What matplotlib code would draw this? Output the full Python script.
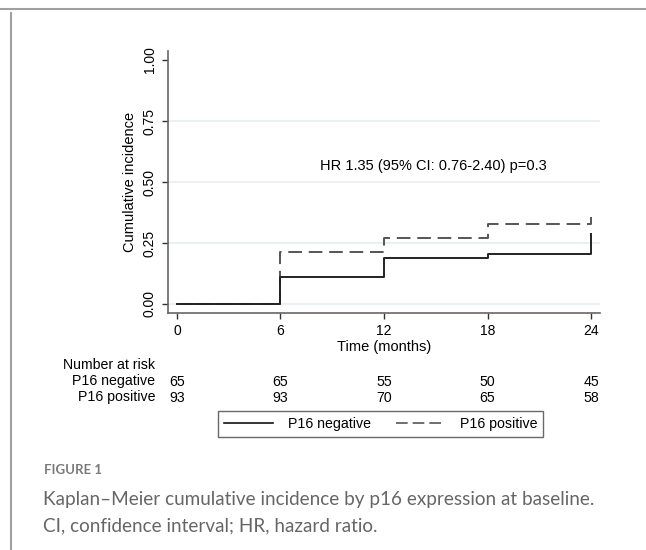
import matplotlib.pyplot as plt
from matplotlib.lines import Line2D
from matplotlib.transforms import blended_transform_factory

plt.rcParams['font.family'] = ['Liberation Sans', 'DejaVu Sans']

# step data
times = [0, 6, 12, 18, 24]
neg_inc = [0.0, 0.109, 0.19, 0.205, 0.285]
pos_inc = [0.0, 0.214, 0.272, 0.327, 0.357]

risk_groups = ['P16 negative', 'P16 positive']
risk_neg = [65, 65, 55, 50, 45]
risk_pos = [93, 93, 70, 65, 58]

yticks = [0.0, 0.25, 0.5, 0.75, 1.0]
ytick_labels = ['0.00', '0.25', '0.50', '0.75', '1.00']

W, H = 646, 550
fig = plt.figure(figsize=(W / 100, H / 100), dpi=100)

# page frame lines (top and left)
fig.add_artist(Line2D([0, 1], [1 - 9 / H, 1 - 9 / H], color='#a0a0a0', lw=1.5))
fig.add_artist(Line2D([11 / W, 11 / W], [0, 1 - 13 / H], color='#a0a0a0', lw=1.5))

ax = fig.add_axes([168 / W, 1 - 313 / H, (600 - 168) / W, (313 - 51) / H])

# build step curves: horizontal till next time, then jump
def steps(t, v):
    xs, ys = [], []
    for i in range(len(t) - 1):
        xs += [t[i], t[i + 1]]
        ys += [v[i], v[i]]
    xs.append(t[-1])
    ys.append(v[-1])
    return xs, ys

xn, yn = steps(times, neg_inc)
xp, yp = steps(times, pos_inc)

for y in yticks[:-1]:
    ax.axhline(y, color='#e6eff2', lw=1.2, zorder=0)

ax.plot(xp, yp, color='#555555', lw=1.4, dashes=(7, 3.5))
ax.plot(xn, yn, color='#222222', lw=1.4)

ax.set_xlim(-0.52, 24.52)
ax.set_ylim(-0.037, 1.037)
ax.set_xticks(times)
ax.set_xticklabels([str(t) for t in times], fontsize=10)
ax.set_yticks(yticks)
ax.set_yticklabels(ytick_labels, fontsize=10, rotation=90, va='center')
ax.set_xlabel('Time (months)', fontsize=10.5, labelpad=1)
ax.set_ylabel('Cumulative incidence', fontsize=10.5, labelpad=4)

for s in ['top', 'right']:
    ax.spines[s].set_visible(False)
for s in ['left', 'bottom']:
    ax.spines[s].set_color('#666666')
    ax.spines[s].set_linewidth(1.2)
ax.tick_params(length=4.5, width=1, color='#333333', pad=3.5)

ax.text(14.85, 0.566, 'HR 1.35 (95% CI: 0.76-2.40) p=0.3', fontsize=10.5,
        ha='center', va='center')

# number at risk table, counts sit under the time ticks
fs = 10.2
under_ticks = blended_transform_factory(ax.transData, fig.transFigure)
fig.text(63 / W, 1 - 365 / H, 'Number at risk', fontsize=fs, va='center')
for row, (grp, vals) in enumerate(zip(risk_groups, [risk_neg, risk_pos])):
    yy = 1 - (381.5 + row * 16) / H
    fig.text(155 / W, yy, grp, fontsize=fs, ha='right', va='center')
    for t, v in zip(times, vals):
        ax.text(t, yy, str(v), fontsize=fs, ha='center', va='center',
                transform=under_ticks)

# legend box
handles = [Line2D([], [], color='#111111', lw=1.2),
           Line2D([], [], color='#555555', lw=1.2, dashes=(7, 3))]
fig.legend(handles, risk_groups, loc='center', bbox_to_anchor=(380.5 / W, 1 - 424 / H),
           ncol=2, fontsize=fs, frameon=True, fancybox=False, edgecolor='#444444',
           handlelength=3.5, columnspacing=1.8, borderpad=0.42, handletextpad=1.0)

# caption
cap = ['Lato', 'DejaVu Sans']
fig.text(44 / W, 1 - 470 / H, 'FIGURE 1', fontsize=9.5, color='#7a7a7a',
         fontweight='bold', va='center', family=cap)
fig.text(43 / W, 1 - 500 / H, 'Kaplan\u2013Meier cumulative incidence by p16 expression at baseline.',
         fontsize=13.6, color='#666666', va='center', family=cap)
fig.text(43 / W, 1 - 526 / H, 'CI, confidence interval; HR, hazard ratio.',
         fontsize=13.6, color='#666666', va='center', family=cap)

fig.savefig('out.png', dpi=100)
